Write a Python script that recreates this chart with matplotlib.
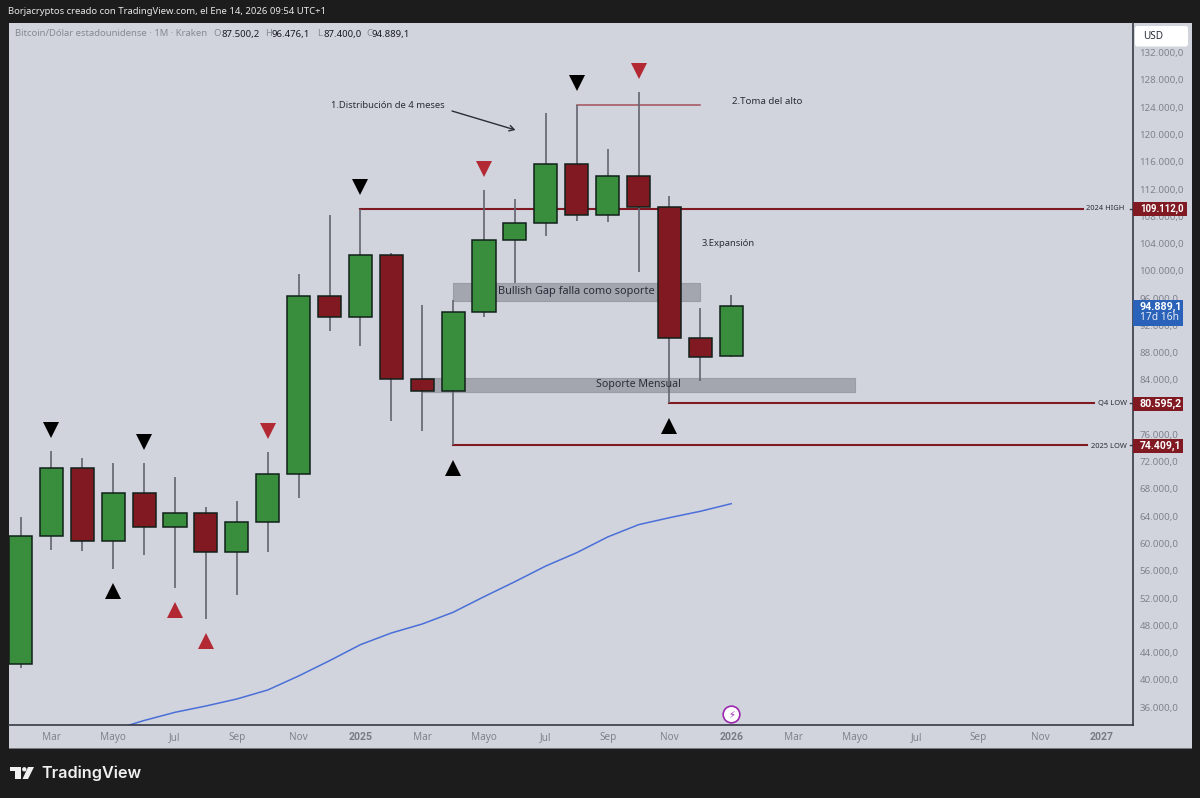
import matplotlib
matplotlib.use('Agg')
import matplotlib.pyplot as plt
from matplotlib.patches import Rectangle, Polygon, Circle, FancyBboxPatch

#Datos (velas mensuales, mes 0 = enero 2025)
meses = list(range(-11, 13))
apertura = [42371, 61061, 71124, 60415, 67413, 62469, 64435, 58714, 63115, 70156, 96313, 93232,
            102327, 84137, 82376, 94010, 104528, 106978, 115677, 108195, 113873, 109413, 90195, 87500]
maximo = [63892, 73574, 72591, 71814, 71814, 69804, 65403, 66283, 73428, 99540, 108195, 109112,
          102621, 94992, 95700, 111863, 110543, 123159, 124377, 117878, 126240, 110983, 94552, 96476]
minimo = [41740, 59051, 58948, 56264, 58317, 53476, 48973, 52405, 58802, 66679, 91178, 88978,
          77975, 76508, 74409, 93276, 98220, 105115, 107315, 107169, 99878, 80595, 83843, 87400]
cierre = [61061, 71124, 60415, 67413, 62469, 64435, 58714, 63115, 70156, 96313, 93232, 102327,
          84137, 82376, 94010, 104528, 106978, 115677, 108195, 113873, 109413, 90195, 87320, 94889]

#Media movil azul
meses_media = list(range(-8, 13))
media = [32645, 34039, 35242, 36166, 37193, 38513, 40567, 42811, 45159, 46875, 48195, 49912,
         52200, 54401, 56704, 58655, 60958, 62763, 63789, 64728, 65843]

#Triangulos
neg_abajo_x = [-10, -7, 0, 7]
neg_abajo_y = [76728, 74895, 112303, 127560]
rojo_abajo_x = [-3, 4, 9]
rojo_abajo_y = [76508, 114944, 129320]
neg_arriba_x = [-8, 3, 10]
neg_arriba_y = [53036, 71080, 77242]
rojo_arriba_x = [-6, -5]
rojo_arriba_y = [50176, 45701]

#Niveles
alto_2024 = 109112.0
bajo_q4 = 80595.2
bajo_2025 = 74409.1
toma_alto = 124377
ultimo = 94889.1

precios_eje = list(range(36000, 136000, 4000))
meses_eje = [-10, -8, -6, -4, -2, 0, 2, 4, 6, 8, 10, 12, 14, 16, 18, 20, 22, 24]
nombres_eje = ['Mar', 'Mayo', 'Jul', 'Sep', 'Nov', '2025', 'Mar', 'Mayo', 'Jul', 'Sep', 'Nov', '2026',
               'Mar', 'Mayo', 'Jul', 'Sep', 'Nov', '2027']

FONDO = '#1c1c1c'
PANEL = '#d1d4dc'
VERDE = '#388e3c'
ROJO = '#801922'
ROJO_TRI = '#b22833'
GRIS = '#80838d'
OSCURO = '#363a45'
FUENTE = 'Noto Sans'

plt.rcParams['font.family'] = FUENTE

W, H = 1200, 798
X0 = 360.4
ANCHO_MES = 30.9


def fx(x):
    return x / W


def fy(y):
    return 1 - y / H


def mes(x):
    return (x - X0) / ANCHO_MES


def precio(v):
    return f"{v:,.1f}".replace(',', '#').replace('.', ',').replace('#', '.')


def texto_fig(x, y, s, **kw):
    fig.text(fx(x), fy(y), s, va='center', **kw)


fig = plt.figure(figsize=(W / 100, H / 100), dpi=100, facecolor=FONDO)

#Panel completo con los ejes
fig.add_artist(Rectangle((fx(9), fy(748)), fx(1183), 725 / H, transform=fig.transFigure,
                         facecolor=PANEL, edgecolor='none', zorder=-5))
fig.add_artist(Rectangle((fx(9), fy(749)), fx(1183), 1.5 / H, transform=fig.transFigure,
                         facecolor='#77797f', edgecolor='none', zorder=-4))

ax = fig.add_axes([fx(9), fy(725), fx(1123.5), 702 / H])
ax.set_facecolor(PANEL)
ax.set_xlim(mes(9), mes(1132.5))
ax.set_ylim(128000 - (725 - 80) * 146.7, 128000 - (23 - 80) * 146.7)

for lado in ['top', 'left']:
    ax.spines[lado].set_visible(False)
for lado in ['right', 'bottom']:
    ax.spines[lado].set_color(OSCURO)
    ax.spines[lado].set_linewidth(1.2)

ax.yaxis.tick_right()
ax.set_yticks(precios_eje)
#el 80.000 queda tapado por la etiqueta del Q4 LOW
ax.set_yticklabels([precio(p) if p != 80000 else '' for p in precios_eje], fontsize=7, color=GRIS)
ax.tick_params(axis='y', length=0, pad=5)
ax.set_xticks(meses_eje)
ax.set_xticklabels(nombres_eje, fontsize=7.2, color=GRIS)
ax.tick_params(axis='x', length=0, pad=5)
for t in ax.get_xticklabels():
    if t.get_text().isdigit():
        t.set_family('Roboto')
        t.set_fontweight('bold')
        t.set_fontsize(7.6)
        t.set_color('#787b86')

#Zonas grises
ax.add_patch(Rectangle((3, 95623), 8, 98220 - 95623, facecolor='#a3a6af', edgecolor='#9a9da6', lw=0.8, zorder=1))
ax.add_patch(Rectangle((2, 82186), 14, 84283 - 82186, facecolor='#a3a6af', edgecolor='#9a9da6', lw=0.8, zorder=1))

#Lineas de nivel
ax.plot([0, mes(1083)], [alto_2024, alto_2024], color=ROJO, lw=1.5, zorder=2)
ax.plot([10, mes(1094)], [bajo_q4, bajo_q4], color=ROJO, lw=1.5, zorder=2)
ax.plot([3, mes(1087)], [bajo_2025, bajo_2025], color=ROJO, lw=1.5, zorder=2)
ax.plot([7, 11], [toma_alto, toma_alto], color='#a3525c', lw=1.1, zorder=2)
for nivel in [alto_2024, bajo_q4, bajo_2025]:
    ax.plot([mes(1130), mes(1132.5)], [nivel, nivel], color=OSCURO, lw=1, zorder=2)

#Media movil
ax.plot(meses_media, media, color='#4a6fd8', lw=1.1, zorder=2)

#Velas
for m, o, h, l, c in zip(meses, apertura, maximo, minimo, cierre):
    color = VERDE if c >= o else ROJO
    ax.plot([m, m], [l, h], color='#62656f', lw=1.2, zorder=3, solid_capstyle='butt')
    ax.bar(m, abs(c - o), bottom=min(o, c), width=0.75, color=color, edgecolor='#10201a', linewidth=1.1, zorder=4)

#Triangulos
ax.plot(neg_abajo_x, neg_abajo_y, 'v', color='black', ms=12, mew=0, zorder=5)
ax.plot(rojo_abajo_x, rojo_abajo_y, 'v', color=ROJO_TRI, ms=12, mew=0, zorder=5)
ax.plot(neg_arriba_x, neg_arriba_y, '^', color='black', ms=12, mew=0, zorder=5)
ax.plot(rojo_arriba_x, rojo_arriba_y, '^', color=ROJO_TRI, ms=12, mew=0, zorder=5)

#Textos dentro de la grafica
ax.text(mes(576), 96900, 'Bullish Gap falla como soporte', fontsize=7.9, color='#2a2e39', ha='center', va='center', zorder=6)
ax.text(mes(638), 83300, 'Soporte Mensual', fontsize=7.6, color='#2a2e39', ha='center', va='center', zorder=6)
ax.annotate('', xy=(mes(515.5), 120665), xytext=(mes(452), 123452), zorder=6,
            arrowprops=dict(arrowstyle='->,head_width=0.2,head_length=0.35', color='#2a2e39', lw=1, shrinkA=0, shrinkB=0))
texto_fig(331, 105, '1.Distribución de 4 meses', fontsize=6.8, color='#2a2e39')
texto_fig(732, 101, '2.Toma del alto', fontsize=7, color='#2a2e39')
texto_fig(702, 243, '3.Expansión', fontsize=6.8, color='#2a2e39')
texto_fig(1086, 209, '2024 HIGH', fontsize=5.4, color='#2a2e39')
texto_fig(1098, 404, 'Q4 LOW', fontsize=5.4, color='#2a2e39')
texto_fig(1091, 446, '2025 LOW', fontsize=5.4, color='#2a2e39')

#Icono morado
ax.plot([12], [34919], 'o', ms=12, mfc='white', mec='#9c27b0', mew=1.2, zorder=6)
ax.text(12, 34919, '\u26a1', fontsize=7, color='#9c27b0', ha='center', va='center', family='DejaVu Sans', zorder=7)

#Etiquetas del eje de precios
def etiqueta(x0, x1, y0, y1, color):
    fig.add_artist(Rectangle((fx(x0), fy(y1)), fx(x1 - x0), (y1 - y0) / H, transform=fig.transFigure,
                             facecolor=color, edgecolor='none', zorder=8))


etiqueta(1133, 1187, 202, 216, ROJO)
fig.text(fx(1140), fy(209), precio(alto_2024), fontsize=6.9, color='white', fontweight='bold', family='Roboto', va='center', zorder=9)
etiqueta(1133, 1183, 397, 411, ROJO)
fig.text(fx(1140), fy(404), precio(bajo_q4), fontsize=7.7, color='white', fontweight='bold', family='Roboto', va='center', zorder=9)
etiqueta(1133, 1183, 439, 453, ROJO)
fig.text(fx(1140), fy(446), precio(bajo_2025), fontsize=7.5, color='white', fontweight='bold', family='Roboto', va='center', zorder=9)
etiqueta(1133, 1183, 300, 326, '#2962b8')
fig.text(fx(1140), fy(307), precio(ultimo), fontsize=7.7, color='white', fontweight='bold', family='Roboto', va='center', zorder=9)
fig.text(fx(1140), fy(318), '17d 16h', fontsize=7.4, color='#e6ecf7', va='center', zorder=9)

#Boton USD
fig.add_artist(FancyBboxPatch((1135, H - 46.5), 53, 20.5, boxstyle='round,pad=0,rounding_size=2.5',
                              transform=None, facecolor='white', edgecolor='none', zorder=8))
fig.text(fx(1143), fy(36.5), 'USD', fontsize=7.2, color='#2a2e39', va='center', zorder=9)

#Cabecera
texto_fig(8, 12, 'Borjacryptos creado con TradingView.com, el Ene 14, 2026 09:54 UTC+1', fontsize=6.85, color='#e8e8e8')
texto_fig(15, 34, 'Bitcoin/Dólar estadounidense · 1M · Kraken', fontsize=6.85, color='#868992')
for x_letra, letra, x_num, num in [(213, 'O', 221, '87.500,2'), (265, 'H', 272, '96.476,1'),
                                   (317, 'L', 323, '87.400,0'), (366, 'C', 372, '94.889,1')]:
    texto_fig(x_letra, 34, letra, fontsize=6.8, color='#868992')
    texto_fig(x_num, 34, num, fontsize=6.9, color='#1a1c22')

#Logo TradingView
for puntos in [[(10, 767), (21, 767), (21, 779), (15, 779), (15, 771), (10, 771)],
               [(28, 767), (34, 767), (28, 779), (22.5, 779)]]:
    fig.add_artist(Polygon([(fx(a), fy(b)) for a, b in puntos], closed=True, transform=fig.transFigure,
                           facecolor='#f0f0f0', edgecolor='none'))
fig.add_artist(Circle((24.3, H - 769.3), 2.2, transform=None, facecolor='#f0f0f0', edgecolor='none'))
texto_fig(41, 773, 'TradingView', fontsize=11.7, color='#f0f0f0', fontweight='semibold', family='Inter')

fig.savefig('out.png', dpi=100, facecolor=FONDO)
